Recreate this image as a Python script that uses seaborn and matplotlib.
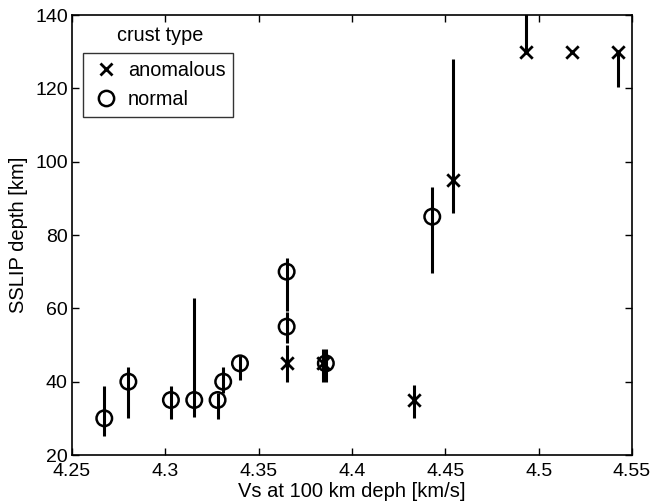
import matplotlib
matplotlib.use("Agg")
import matplotlib.pyplot as plt
import seaborn as sns
import pandas as pd
from matplotlib.lines import Line2D

# data
vs = [4.2673, 4.2802, 4.303, 4.3155, 4.328, 4.331, 4.340, 4.365, 4.365, 4.386, 4.443,
      4.365, 4.3845, 4.433, 4.454, 4.4931, 4.518, 4.5426]
depth = [30, 40, 35, 35, 35, 40, 45, 70, 55, 45, 85,
         45, 45, 35, 95, 130, 130, 130]
err_lo = [25.2, 30.2, 29.7, 30.4, 29.8, 37, 40.5, 59.3, 50.5, 40, 69.6,
          40, 40, 30, 86, 130, 130, 120.3]
err_hi = [38.8, 43.9, 38.8, 62.7, 37, 44, 47, 73.7, 59, 49, 93.2,
          50, 49, 39, 127.9, 145, 130, 130]
crust = ["normal"] * 11 + ["anomalous"] * 7

df = pd.DataFrame({"vs": vs, "depth": depth, "lo": err_lo, "hi": err_hi, "crust": crust})

sns.set_theme(style="white")
plt.rcParams["font.family"] = ["Liberation Sans", "DejaVu Sans"]
plt.rcParams["text.color"] = "black"
plt.rcParams["axes.labelcolor"] = "black"

fig = plt.figure(figsize=(6.52, 5.04), dpi=100)
ax = fig.add_axes([0.1104, 0.0972, 0.8589, 0.873])

ax.vlines(df["vs"], df["lo"], df["hi"], color="black", linewidth=2.2, zorder=2)

norm = df[df["crust"] == "normal"]
anom = df[df["crust"] == "anomalous"]
sns.scatterplot(data=norm, x="vs", y="depth", marker="o", facecolor="none",
                edgecolor="black", linewidth=1.8, s=125, ax=ax, legend=False, zorder=3)
sns.scatterplot(data=anom, x="vs", y="depth", marker="x", color="black",
                linewidth=2.0, s=80, ax=ax, legend=False, zorder=3)

ax.set_xlim(4.25, 4.55)
ax.set_ylim(20, 140)
ax.set_xticks([4.25, 4.3, 4.35, 4.4, 4.45, 4.5, 4.55])
ax.set_xticklabels(["4.25", "4.3", "4.35", "4.4", "4.45", "4.5", "4.55"])
ax.set_yticks([20, 40, 60, 80, 100, 120, 140])
ax.set_xlabel("Vs at 100 km deph [km/s]", fontsize=14.5, labelpad=1)
ax.set_ylabel("SSLIP depth [km]", fontsize=14.5, labelpad=5)
ax.tick_params(direction="in", length=5, width=1, labelsize=14, top=True, right=True,
               bottom=True, left=True, colors="black")
ax.tick_params(axis="x", pad=6)
ax.tick_params(axis="y", pad=3)
for sp in ax.spines.values():
    sp.set_color("black")
    sp.set_linewidth(1.2)

handles = [Line2D([], [], marker="x", color="black", linestyle="none", markersize=9, markeredgewidth=2),
           Line2D([], [], marker="o", markerfacecolor="none", markeredgecolor="black",
                  linestyle="none", markersize=11, markeredgewidth=1.8)]
leg = ax.legend(handles, ["anomalous", "normal"], loc="upper left",
                bbox_to_anchor=(0.0196, 0.9136), borderaxespad=0, fontsize=14.3,
                frameon=True, fancybox=False, edgecolor="black", handletextpad=0.35,
                borderpad=0.4, labelspacing=0.5, handlelength=1.5)
leg.get_frame().set_linewidth(1.0)
ax.text(0.157, 0.9545, "crust type", transform=ax.transAxes, fontsize=14.3,
        ha="center", va="center")

fig.savefig("out.png", dpi=100)
